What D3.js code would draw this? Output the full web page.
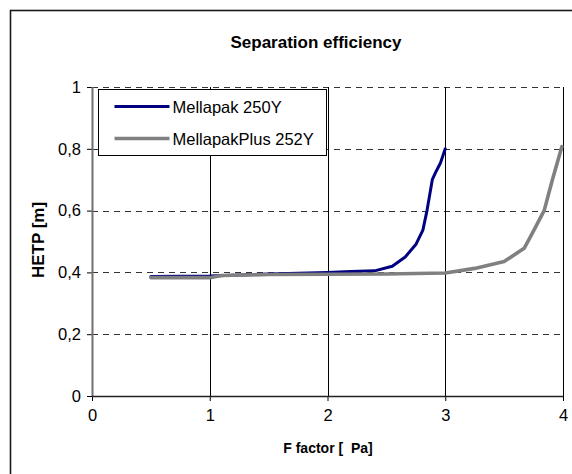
<!DOCTYPE html>
<html>
<head>
<meta charset="utf-8">
<title>Separation efficiency</title>
<script src="https://d3js.org/d3.v7.min.js"></script>
<style>
body {
	margin: 0;
	background-color: white;
	font-family: Arial, "Liberation Sans", sans-serif;
}
svg {
	display: block;
}
.tick text {
	font-size: 16.5px;
	fill: black;
}
.grid-h line {
	stroke: #333;
	stroke-dasharray: 6, 5;
	stroke-width: 1;
}
.grid-v line {
	stroke: black;
	stroke-width: 1;
}
.line {
	fill: none;
	stroke-linejoin: round;
	stroke-linecap: round;
}
</style>
</head>
<body>
<div id="graph"></div>
<script>
/* globals d3 */
"use strict";

const seriesNames = ["Mellapak 250Y", "MellapakPlus 252Y"];
const seriesColors = ["#000080", "#808080"];

// F factor, HETP [m]
const mellapak250X = [0.5, 1.0, 1.5, 2.0, 2.2, 2.4, 2.55, 2.66, 2.75, 2.81, 2.845, 2.89, 2.92, 2.96, 3.0];
const mellapak250Y = [0.387, 0.388, 0.395, 0.400, 0.403, 0.405, 0.420, 0.450, 0.490, 0.537, 0.600, 0.700, 0.725, 0.755, 0.800];

const plus252X = [0.5, 1.0, 1.1, 1.5, 2.0, 2.5, 3.0, 3.25, 3.5, 3.67, 3.74, 3.84, 3.91, 3.99];
const plus252Y = [0.383, 0.383, 0.390, 0.393, 0.394, 0.395, 0.398, 0.413, 0.435, 0.478, 0.527, 0.600, 0.700, 0.807];

const xTicks = [0, 1, 2, 3, 4];
const yTicks = [0, 0.2, 0.4, 0.6, 0.8, 1];

function main()
{
	const W = 572, H = 474;
	const margin = {top: 87, left: 92, right: 9, bottom: 78};
	const width = W - margin.left - margin.right;
	const height = H - margin.top - margin.bottom;

	const xScale = d3.scaleLinear([0, 4], [0, width]);
	const yScale = d3.scaleLinear([0, 1], [height, 0]);
	const fmt = d => String(d).replace(".", ",");

	const svg = d3.select("#graph").append("svg")
		.attr("width", W)
		.attr("height", H);

	// outer chart frame (runs off the right and bottom edge)
	svg.append("rect")
		.attr("x", 10.5).attr("y", 10.5)
		.attr("width", W + 20).attr("height", H + 20)
		.attr("fill", "none")
		.attr("stroke", "#1a1a1a")
		.attr("stroke-width", 1.6);

	svg.append("text")
		.attr("x", 316).attr("y", 48)
		.attr("text-anchor", "middle")
		.attr("font-weight", "bold")
		.attr("font-size", "17px")
		.text("Separation efficiency");

	const g = svg.append("g")
		.attr("transform", "translate(" + margin.left + "," + margin.top + ")");

	g.append("g")
		.attr("class", "grid-h")
		.selectAll("line")
		.data(yTicks.filter(d => d > 0))
		.join("line")
		.attr("x1", 0).attr("x2", width)
		.attr("y1", d => Math.round(yScale(d)) + 0.5)
		.attr("y2", d => Math.round(yScale(d)) + 0.5);

	g.append("g")
		.attr("class", "grid-v")
		.selectAll("line")
		.data(xTicks.filter(d => d > 0))
		.join("line")
		.attr("x1", d => Math.round(xScale(d)) + 0.5)
		.attr("x2", d => Math.round(xScale(d)) + 0.5)
		.attr("y1", 0).attr("y2", height)
		.attr("stroke", d => d >= 3 ? "#808080" : "black")
		.attr("stroke-width", d => d >= 3 ? 1.6 : 1);

	const xAxis = d3.axisBottom(xScale).tickValues(xTicks).tickSize(5).tickPadding(8).tickFormat(fmt);
	const yAxis = d3.axisLeft(yScale).tickValues(yTicks).tickSize(5).tickPadding(6).tickFormat(fmt);

	const yg = g.append("g").call(yAxis);
	yg.select(".domain").remove();
	yg.selectAll(".tick line").attr("stroke", "black");
	yg.append("line")
		.attr("x1", 0.5).attr("x2", 0.5)
		.attr("y1", 0).attr("y2", height)
		.attr("stroke", "#707070")
		.attr("stroke-width", 2);

	const xg = g.append("g")
		.attr("transform", "translate(0," + height + ")")
		.call(xAxis);
	xg.select(".domain").remove();
	xg.selectAll(".tick line").attr("stroke", "black");
	xg.append("line")
		.attr("x1", 0).attr("x2", width)
		.attr("y1", 0.5).attr("y2", 0.5)
		.attr("stroke", "#222")
		.attr("stroke-width", 1.4);

	const series = [
		d3.zip(mellapak250X, mellapak250Y),
		d3.zip(plus252X, plus252Y),
	];
	const line = d3.line().x(d => xScale(d[0])).y(d => yScale(d[1]));

	// grey series on top, as in the original
	g.append("path")
		.attr("class", "line")
		.attr("stroke", seriesColors[0])
		.attr("stroke-width", 3)
		.attr("d", line(series[0]));
	g.append("path")
		.attr("class", "line")
		.attr("stroke", seriesColors[1])
		.attr("stroke-width", 3.6)
		.attr("d", line(series[1]));

	// legend
	const lg = svg.append("g").attr("transform", "translate(98.5,89.5)");
	lg.append("rect")
		.attr("width", 228).attr("height", 66)
		.attr("fill", "white")
		.attr("stroke", "black");
	seriesNames.forEach((name, i) => {
		const y = 17 + i * 32;
		lg.append("line")
			.attr("x1", 16).attr("x2", 71)
			.attr("y1", y).attr("y2", y)
			.attr("stroke", seriesColors[i])
			.attr("stroke-width", i ? 3.6 : 3);
		lg.append("text")
			.attr("x", 74).attr("y", y + 6)
			.attr("font-size", "16.5px")
			.text(name);
	});

	svg.append("text")
		.attr("transform", "translate(44,240) rotate(-90)")
		.attr("text-anchor", "middle")
		.attr("font-weight", "bold")
		.attr("font-size", "17px")
		.text("HETP [m]");

	svg.append("text")
		.attr("x", 328).attr("y", 453)
		.attr("text-anchor", "middle")
		.attr("font-weight", "bold")
		.attr("font-size", "14px")
		.attr("xml:space", "preserve")
		.style("white-space", "pre")
		.text("F factor [  Pa]");
}
main();
</script>
</body>
</html>
